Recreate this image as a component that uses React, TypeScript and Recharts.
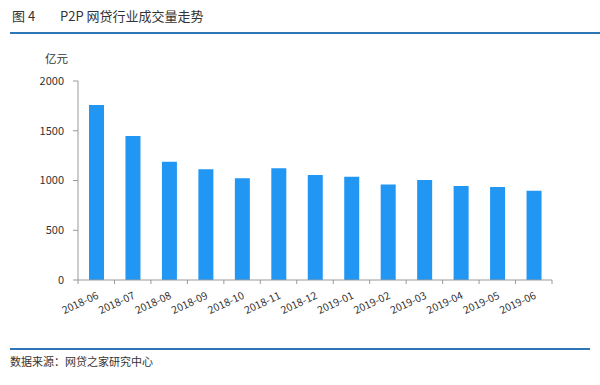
import { BarChart, Bar, XAxis, YAxis } from "recharts";

const months = [
  "2018-06", "2018-07", "2018-08", "2018-09", "2018-10", "2018-11", "2018-12",
  "2019-01", "2019-02", "2019-03", "2019-04", "2019-05", "2019-06",
];
const volume = [1759, 1447, 1189, 1112, 1022, 1122, 1055, 1038, 961, 1005, 945, 935, 897];
const yTicks = [0, 500, 1000, 1500, 2000];

const chartData = months.map((m, i) => ({ month: m, volume: volume[i] }));

const font = '"Noto Sans CJK SC", "Microsoft YaHei", sans-serif';
const plotWidth = 474;
const halfBand = plotWidth / months.length / 2;

// label rotated like Excel, plus a small tick mark at the category boundaries
const MonthTick = ({ x, y, payload, index }: any) => (
  <g>
    <line x1={x - halfBand} x2={x - halfBand} y1={y - 8} y2={y - 4} stroke="#999" />
    {index === months.length - 1 && (
      <line x1={x + halfBand} x2={x + halfBand} y1={y - 8} y2={y - 4} stroke="#999" />
    )}
    <text
      transform={`translate(${x + 3}, ${y + 10}) rotate(-25)`}
      textAnchor="end"
      fontSize={10.5}
      fill="#333"
      fontFamily={font}
    >
      {payload.value}
    </text>
  </g>
);

export default function App() {
  return (
    <div
      style={{
        position: "absolute",
        left: 0,
        top: 0,
        width: 600,
        height: 385,
        background: "#fff",
        fontFamily: font,
        color: "#333",
      }}
    >
      <div style={{ position: "absolute", left: 12, top: 6, fontSize: 13 }}>图 4</div>
      <div style={{ position: "absolute", left: 60, top: 6, fontSize: 13 }}>P2P 网贷行业成交量走势</div>
      <div style={{ position: "absolute", left: 10, top: 32, width: 590, height: 2, background: "#2E75B6" }} />
      <div style={{ position: "absolute", left: 45, top: 50, fontSize: 11.5 }}>亿元</div>
      <div style={{ position: "absolute", left: 0, top: 0 }}>
        <BarChart width={600} height={345} data={chartData} margin={{ top: 81, right: 48, left: 0, bottom: 5 }}>
          <YAxis
            width={78}
            domain={[0, 2000]}
            ticks={yTicks}
            tick={{ fill: "#333", fontSize: 11, fontFamily: font }}
            axisLine={{ stroke: "#999" }}
            tickLine={{ stroke: "#999" }}
            tickSize={5}
            tickMargin={9}
          />
          <XAxis
            dataKey="month"
            interval={0}
            height={60}
            tick={<MonthTick />}
            axisLine={{ stroke: "#999" }}
            tickLine={false}
          />
          <Bar dataKey="volume" fill="#2196F3" barSize={15} isAnimationActive={false} />
        </BarChart>
      </div>
      <div style={{ position: "absolute", left: 10, top: 348, width: 580, height: 2, background: "#2E75B6" }} />
      <div style={{ position: "absolute", left: 10, top: 353, fontSize: 11 }}>数据来源：网贷之家研究中心</div>
    </div>
  );
}
